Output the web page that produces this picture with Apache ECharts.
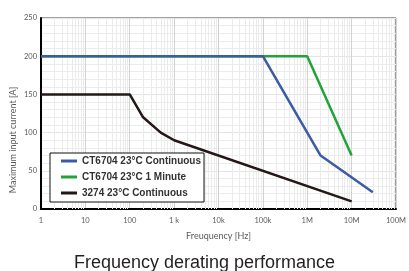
<!DOCTYPE html>
<html>
<head>
<meta charset="utf-8">
<script src="https://cdn.jsdelivr.net/npm/echarts@6/dist/echarts.min.js"></script>
<style>
	html, body { margin: 0; padding: 0; background: #fff; }
	#chart { width: 409px; height: 271px; }
</style>
</head>
<body>
<div id="chart"></div>
<script>
// 数据
var seriesNames = ['CT6704 23°C Continuous', 'CT6704 23°C 1 Minute', '3274 23°C Continuous'];
var blueFreq = [1, 100000, 2000000, 30000000];
var blueVal = [200, 200, 70, 22];
var greenFreq = [1, 1000000, 10000000];
var greenVal = [200, 200, 70];
var blackFreq = [1, 100, 200, 500, 1000, 10000000];
var blackVal = [150, 150, 120, 100, 90, 10];
var xTickLabels = ['1', '10', '100', '1 k', '10k', '100k', '1M', '10M', '100M'];
var yTicks = [0, 50, 100, 150, 200, 250];

function pairs(xs, ys) {
	var out = [];
	for (var i = 0; i < xs.length; i++) {
		out.push([xs[i], ys[i]]);
	}
	return out;
}

// 对数坐标的次网格线 (2..9 每个十倍程)
var minorLines = [];
for (var d = 1; d < 1e8; d *= 10) {
	for (var k = 2; k <= 9; k++) {
		minorLines.push({ xAxis: k * d });
	}
}

var myChart = echarts.init(document.getElementById('chart'));
var option = {
	animation: false,
	title: {
		text: 'Frequency derating performance',
		left: 'center',
		top: 249,
		textStyle: {
			color: '#231f20',
			fontFamily: 'Liberation Sans',
			fontWeight: 'normal',
			fontSize: 18
		}
	},
	grid: {
		left: 41,
		top: 18,
		right: 3,
		bottom: 62,
		show: true,
		borderColor: '#444',
		borderWidth: 1
	},
	legend: {
		data: seriesNames,
		orient: 'vertical',
		left: 50,
		top: 153,
		z: 20,
		backgroundColor: '#fff',
		borderColor: '#111',
		borderWidth: 1,
		padding: [3, 3, 4, 11],
		itemGap: 6,
		itemWidth: 16,
		itemHeight: 3,
		icon: 'rect',
		textStyle: {
			color: '#333',
			fontFamily: 'Liberation Sans',
			fontWeight: 'bold',
			fontSize: 10
		}
	},
	xAxis: {
		type: 'log',
		logBase: 10,
		min: 1,
		max: 100000000,
		name: 'Freuquency [Hz]',
		nameLocation: 'middle',
		nameGap: 23,
		nameTextStyle: { color: '#595959', fontFamily: 'Lato', fontSize: 9 },
		axisLine: { show: true, onZero: false, lineStyle: { color: '#000', width: 2 } },
		axisTick: { show: false },
		axisLabel: {
			color: '#595959',
			fontFamily: 'Lato',
			fontSize: 7.5,
			margin: 8,
			formatter: function(v) {
				var i = Math.round(Math.log(v) / Math.LN10);
				return xTickLabels[i];
			}
		},
		splitLine: { show: true, lineStyle: { color: '#d2d2d2', width: 1 } }
	},
	yAxis: {
		type: 'value',
		min: yTicks[0],
		max: yTicks[yTicks.length - 1],
		interval: 50,
		axisLine: { show: true, lineStyle: { color: '#000', width: 2 } },
		axisTick: { show: false },
		axisLabel: { color: '#595959', fontFamily: 'Lato', fontSize: 7.5, margin: 4 },
		splitLine: { show: true, lineStyle: { color: '#e4e4e4', width: 1 } },
		minorTick: { show: false, splitNumber: 5 },
		minorSplitLine: { show: true, lineStyle: { color: '#ececec', width: 1 } }
	},
	graphic: [{
		type: 'text',
		x: 13,
		y: 140,
		rotation: Math.PI / 2,
		style: {
			text: 'Maximum input current [A]',
			fill: '#595959',
			font: '9px Lato',
			align: 'center',
			verticalAlign: 'middle'
		}
	}],
	series: [{
		type: 'line',
		name: 'gridMinor',
		data: [],
		silent: true,
		z: 1,
		markLine: {
			silent: true,
			z: 1,
			symbol: 'none',
			label: { show: false },
			lineStyle: { color: '#ebebeb', width: 1, type: 'solid' },
			data: minorLines
		}
	}, {
		type: 'line',
		name: seriesNames[1],
		data: pairs(greenFreq, greenVal),
		showSymbol: false,
		color: '#22a33a',
		lineStyle: { width: 2.5 },
		z: 3
	}, {
		type: 'line',
		name: seriesNames[0],
		data: pairs(blueFreq, blueVal),
		showSymbol: false,
		color: '#3a5ba6',
		lineStyle: { width: 2.5 },
		z: 4
	}, {
		type: 'line',
		name: seriesNames[2],
		data: pairs(blackFreq, blackVal),
		showSymbol: false,
		color: '#231815',
		lineStyle: { width: 2.5 },
		z: 5
	}]
};
myChart.setOption(option);
</script>
</body>
</html>
